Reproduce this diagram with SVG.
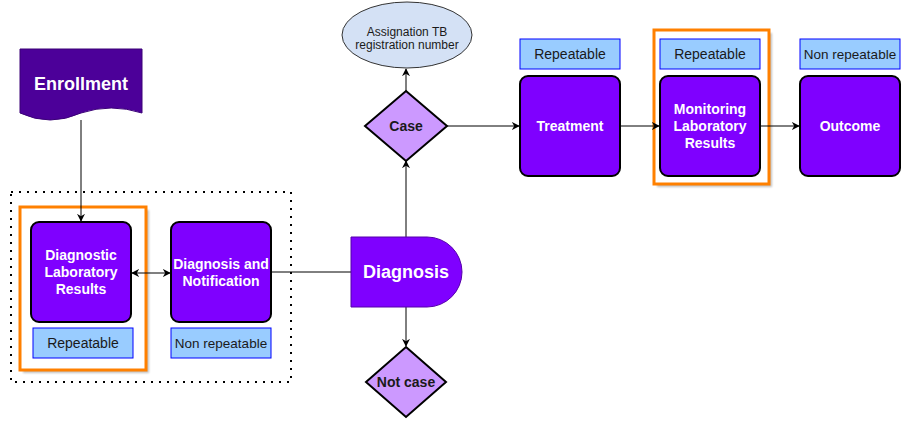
<svg xmlns="http://www.w3.org/2000/svg" width="912" height="425" viewBox="0 0 912 425">
<defs>
<marker id="arr" viewBox="0 0 10 10" refX="9" refY="5" markerWidth="8" markerHeight="8" markerUnits="userSpaceOnUse" orient="auto-start-reverse">
<path d="M0,0 L10,5 L0,10 L3,5 Z" fill="#000"/>
</marker>
<filter id="sh" x="-10%" y="-10%" width="130%" height="130%">
<feGaussianBlur in="SourceAlpha" stdDeviation="1.2"/>
<feOffset dx="3" dy="3" result="b"/>
<feComponentTransfer><feFuncA type="linear" slope="0.25"/></feComponentTransfer>
<feMerge><feMergeNode/><feMergeNode in="SourceGraphic"/></feMerge>
</filter>
</defs>
<style>
.box{fill:#7F00FF;stroke:#000;stroke-width:2}
.lbl{fill:#99CCFF;stroke:#0000FF;stroke-width:1}
.dia{fill:#CC99FF;stroke:#000;stroke-width:2}
.hl{fill:none;stroke:#FF8000;stroke-width:3}
.wt{font-family:"Liberation Sans",Arial,sans-serif;font-weight:bold;fill:#fff;text-anchor:middle;font-size:14px}
.lt{font-family:"Liberation Sans",Arial,sans-serif;fill:#1a1a1a;text-anchor:middle;font-size:14px}
.nr{font-size:13.5px}
.dt{font-family:"Liberation Sans",Arial,sans-serif;font-weight:bold;fill:#1a1a1a;text-anchor:middle;font-size:14px}
.ln{fill:none;stroke:#000;stroke-width:1}
</style>

<g id="container">
<rect x="11" y="192" width="280" height="190" fill="none" stroke="#000" stroke-width="2" stroke-dasharray="2 6"/>
</g>

<g id="highlight-diagnostic">
<rect x="20" y="207" width="126" height="163" fill="#fff" stroke="none" filter="url(#sh)"/>
<rect x="20" y="207" width="126" height="163" class="hl"/>
</g>
<g id="highlight-monitoring">
<rect x="654" y="30" width="115" height="154" fill="#fff" stroke="none" filter="url(#sh)"/>
<rect x="654" y="30" width="115" height="154" class="hl"/>
</g>

<g id="connectors">
<line x1="81" y1="120" x2="81" y2="221" class="ln" marker-end="url(#arr)"/>
<line x1="132" y1="273" x2="170" y2="273" class="ln" marker-start="url(#arr)" marker-end="url(#arr)"/>
<line x1="271" y1="272" x2="351" y2="272" class="ln"/>
<line x1="406" y1="237" x2="406" y2="161" class="ln" marker-end="url(#arr)"/>
<line x1="406" y1="91" x2="406" y2="69" class="ln" marker-end="url(#arr)"/>
<line x1="447" y1="126" x2="519" y2="126" class="ln" marker-end="url(#arr)"/>
<line x1="620" y1="126" x2="659" y2="126" class="ln" marker-end="url(#arr)"/>
<line x1="760" y1="126" x2="799" y2="126" class="ln" marker-end="url(#arr)"/>
<line x1="406" y1="307" x2="406" y2="346" class="ln" marker-end="url(#arr)"/>
</g>

<g id="enrollment">
<path d="M20,49 H142 V113 Q111,103 81,113 Q50,127 20,113 Z" fill="#4C0099" stroke="#3a0077" stroke-width="1"/>
<text x="81" y="90" class="wt" style="font-size:18px">Enrollment</text>
</g>

<g id="diagnostic-lab">
<rect x="31" y="222" width="100" height="100" rx="8" class="box"/>
<text x="81" y="260" class="wt">Diagnostic</text>
<text x="81" y="277" class="wt">Laboratory</text>
<text x="81" y="294" class="wt">Results</text>
</g>
<g id="diagnostic-lab-label">
<rect x="33" y="328" width="100" height="30" class="lbl"/>
<text x="83" y="348" class="lt">Repeatable</text>
</g>

<g id="diagnosis-notification">
<rect x="171" y="222" width="100" height="100" rx="8" class="box"/>
<text x="221" y="269" class="wt">Diagnosis and</text>
<text x="221" y="286" class="wt">Notification</text>
</g>
<g id="diagnosis-notification-label">
<rect x="171" y="328" width="100" height="30" class="lbl"/>
<text x="221" y="348" class="lt nr">Non repeatable</text>
</g>

<g id="diagnosis">
<path d="M351,237 H427 A35,35 0 0 1 427,307 H351 Z" fill="#7F00FF" stroke="#5500aa" stroke-width="1"/>
<text x="406" y="278" class="wt" style="font-size:18px">Diagnosis</text>
</g>

<g id="case">
<polygon points="406,91 447,126 406,161 365,126" class="dia"/>
<text x="406" y="131" class="dt">Case</text>
</g>

<g id="not-case">
<polygon points="406,347 446,382 406,417 366,382" class="dia"/>
<text x="406" y="387" class="dt">Not case</text>
</g>

<g id="assignation">
<ellipse cx="407" cy="35" rx="65" ry="33" fill="#D4E1F5" stroke="#333" stroke-width="1"/>
<text x="407" y="36" class="lt" style="font-size:12px">Assignation TB</text>
<text x="407" y="49" class="lt" style="font-size:12px">registration number</text>
</g>

<g id="treatment">
<rect x="520" y="76" width="100" height="100" rx="8" class="box"/>
<text x="570" y="131" class="wt">Treatment</text>
</g>
<g id="treatment-label">
<rect x="520" y="39" width="100" height="30" class="lbl"/>
<text x="570" y="59" class="lt">Repeatable</text>
</g>

<g id="monitoring">
<rect x="660" y="76" width="100" height="100" rx="8" class="box"/>
<text x="710" y="114" class="wt">Monitoring</text>
<text x="710" y="131" class="wt">Laboratory</text>
<text x="710" y="148" class="wt">Results</text>
</g>
<g id="monitoring-label">
<rect x="660" y="39" width="100" height="30" class="lbl"/>
<text x="710" y="59" class="lt">Repeatable</text>
</g>

<g id="outcome">
<rect x="800" y="76" width="100" height="100" rx="8" class="box"/>
<text x="850" y="131" class="wt">Outcome</text>
</g>
<g id="outcome-label">
<rect x="800" y="39" width="100" height="30" class="lbl"/>
<text x="850" y="59" class="lt nr">Non repeatable</text>
</g>
</svg>
